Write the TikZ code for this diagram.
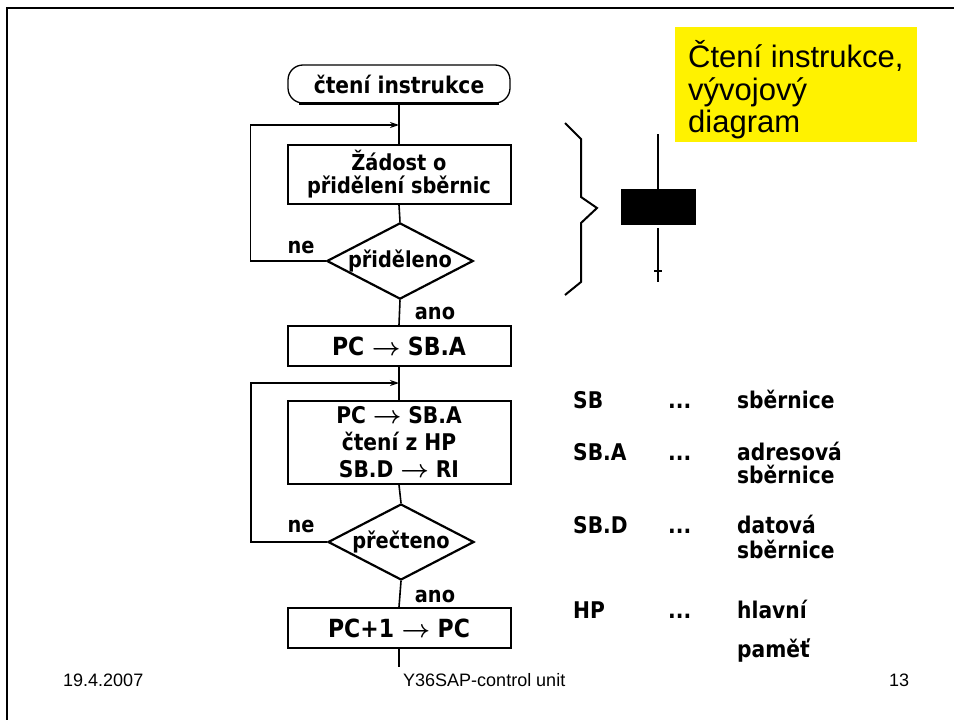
\documentclass[tikz,border=0pt]{standalone}
\usepackage{fontspec}
\usepackage{amsmath}
\setmainfont{Liberation Sans}
\newfontfamily\fc[FakeStretch=0.88]{DejaVu Sans}
\usetikzlibrary{shapes.geometric,arrows.meta}
\newcommand{\arr}{\hspace{0.3em}$\boldsymbol{\rightarrow}$\hspace{0.3em}}
\begin{document}
\begin{tikzpicture}[x=1pt,y=-1pt,
  box/.style={draw,line width=2pt,minimum width=223pt,inner sep=0pt,align=center,font=\fc\bfseries\fontsize{25}{25.5}\selectfont},
  dia/.style={draw,diamond,line width=2.2pt,minimum width=146pt,minimum height=76pt,inner sep=0pt,aspect=1.92,font=\fc\bfseries\fontsize{22}{22}\selectfont},
  ln/.style={line width=1.6pt},
  loopln/.style={line width=1.6pt,-{Stealth[length=9pt,width=6pt]}},
  small/.style={inner sep=0pt,font=\fc\bfseries\fontsize{22}{22}\selectfont},
  lbl/.style={anchor=base west,inner sep=0pt,font=\fc\bfseries\fontsize{23}{23}\selectfont},
  foot/.style={anchor=base west,inner sep=0pt,font=\fontsize{18}{18}\selectfont},
  ttl/.style={anchor=base west,inner sep=0pt,font=\fontsize{31}{32}\selectfont}]
\useasboundingbox (0,0) rectangle (954,720);
% frame
\draw[line width=2.5pt] (7,720) -- (7,8) -- (954,8);
% title
\fill[yellow] (675,27) rectangle (917,142);
\node[ttl] (t1) at (688,67) {Čtení instrukce,};
\node[ttl] (t2) at (688,100) {vývojový};
\node[ttl] (t3) at (688,132) {diagram};
% flowchart
\node[draw,rounded corners=15pt,line width=1.3pt,minimum width=222pt,minimum height=38pt,inner sep=0pt,font=\fc\bfseries\fontsize{23}{23}\selectfont] (term) at (399,84) {čtení instrukce};
\draw[line width=2.6pt] ([xshift=12pt]term.south west) -- ([xshift=-12pt]term.south east);
\node[box,minimum height=59pt,font=\fc\bfseries\fontsize{22}{23}\selectfont] (b1) at (399,174.5) {Žádost o\\přidělení sběrnic};
\node[dia] (d1) at (400,261) {přiděleno};
\node[box,minimum height=40pt] (b2) at (399,346) {PC\arr SB.A};
\node[box,minimum height=83pt,font=\fc\bfseries\fontsize{23}{27}\selectfont] (b3) at (399,442.5) {PC\arr SB.A\\čtení z HP\\SB.D\arr RI};
\node[dia] (d2) at (401,542) {přečteno};
\node[box,minimum height=40pt] (b4) at (399,628) {PC+1\arr PC};
\coordinate (j1) at (399,125);
\coordinate (j2) at (399,383);
\coordinate (fin) at (399,667);
\draw[ln] (term.south) -- (b1.north);
\draw[ln] (b1.south) -- (d1.north);
\draw[ln] (d1.south) -- (b2.north);
\draw[ln] (b2.south) -- (b3.north);
\draw[ln] (b3.south) -- (d2.north);
\draw[ln] (d2.south) -- (b4.north);
\draw[ln] (b4.south) -- (fin);
\draw[loopln] (d1.west) -- ++(-75,0) |- (j1);
\draw[loopln] (d2.west) -- ++(-76,0) |- (j2);
\node[small] (ne1) at (301,247) {ne};
\node[small] (ano1) at (435,313) {ano};
\node[small] (ne2) at (301,526) {ne};
\node[small] (ano2) at (435,596) {ano};
% brace and bus symbol
\draw[line width=2pt] (565,123) -- (581,139) -- (581,197) -- (597,208) -- (581,223) -- (581,282) -- (565,295);
\fill (621,189) rectangle (696,225);
\draw[line width=1.6pt] (658,134) -- (658,189);
\draw[line width=1.6pt] (658,228) -- (658,282);
\draw[line width=1.6pt] (654,271) -- (662,271);
% legend
\node[lbl] (l1) at (573,408) {SB};
\node[lbl] (l1d) at (668,408) {...};
\node[lbl] (l1t) at (737,408) {sběrnice};
\node[lbl] (l2) at (573,460) {SB.A};
\node[lbl] (l2d) at (668,460) {...};
\node[lbl] (l2t) at (737,460) {adresová};
\node[lbl] (l2u) at (737,483) {sběrnice};
\node[lbl] (l3) at (573,533) {SB.D};
\node[lbl] (l3d) at (668,533) {...};
\node[lbl] (l3t) at (737,533) {datová};
\node[lbl] (l3u) at (737,558) {sběrnice};
\node[lbl] (l4) at (573,618) {HP};
\node[lbl] (l4d) at (668,618) {...};
\node[lbl] (l4t) at (737,618) {hlavní};
\node[lbl] (l4u) at (737,657) {paměť};
% footer
\node[foot] (f1) at (63,686) {19.4.2007};
\node[foot] (f2) at (403,686) {Y36SAP-control unit};
\node[foot] (f3) at (889,686) {13};
\end{tikzpicture}
\end{document}
